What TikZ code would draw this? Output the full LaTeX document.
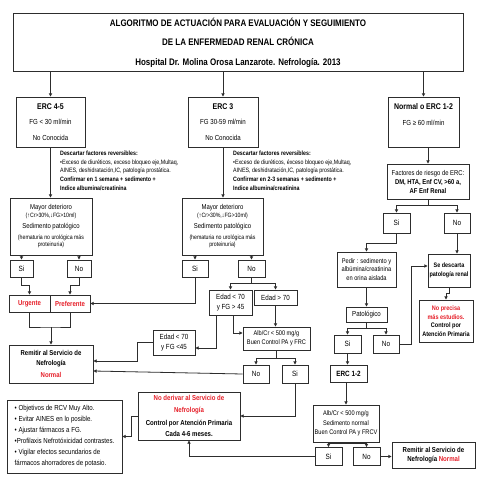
\documentclass[tikz,border=0pt]{standalone}
\usepackage{fontspec}
\setmainfont[FakeStretch=0.84]{Liberation Sans}
\usetikzlibrary{arrows.meta}
\definecolor{mred}{RGB}{230,30,40}
\definecolor{lc}{RGB}{45,45,45}
\newcommand\fs[2]{\fontsize{#1}{#2}\selectfont}
\begin{document}
\begin{tikzpicture}[x=1pt,y=-1pt,
  box/.style={draw=lc,line width=0.9pt,fill=white,align=center,inner sep=1pt,text=black,font=\fs{7.6}{9}},
  wh/.style 2 args={minimum width=#1pt,minimum height=#2pt},
  arr/.style={draw=lc,line width=0.8pt,-{Triangle[length=3.2pt,width=3.2pt]}},
  ln/.style={draw=lc,line width=0.8pt},
  txt/.style={align=left,inner sep=0pt,anchor=north west,font=\fs{6.3}{8.6}},
  rb/.style={text=mred,font=\bfseries\fs{7.2}{9}}]
\fill[white] (0,0) rectangle (480,480);
\useasboundingbox (0,0) rectangle (480,480);

% title
\node[box,wh={450}{58},font=\bfseries\fs{9.5}{19.5}] (title) at (238,42.5)
 {ALGORITMO DE ACTUACIÓN PARA EVALUACIÓN Y SEGUIMIENTO\\DE LA ENFERMEDAD RENAL CRÓNICA\\Hospital Dr. Molina Orosa Lanzarote. Nefrología. 2013};

% top boxes
\node[box,wh={69}{50},font=\fs{7.3}{15.5}] (erc45) at (50.5,122) {\fs{8.3}{15.5}\bfseries ERC 4-5\\FG < 30 ml/min\\No Conocida};
\node[box,wh={70}{50},font=\fs{7.3}{15.5}] (erc3) at (223,122) {\fs{8.3}{15.5}\bfseries ERC 3\\FG 30-59 ml/min\\No Conocida};
\node[box,wh={71}{50},font=\fs{7.3}{15.5}] (normal) at (423.5,122) {\fs{8.3}{15.5}\bfseries Normal o ERC 1-2\\FG ≥ 60 ml/min\\\mbox{}};

% descriptions
\node[txt] (d45) at (60,151) {\bfseries Descartar factores reversibles:\\•Exceso de diuréticos, exceso bloqueo eje,Multaq,\\AINES, deshidratación,IC, patología prostática.\\\bfseries Confirmar en 1 semana + sedimento +\\\bfseries Indice albumina/creatinina};
\node[txt] (d3) at (233,151) {\bfseries Descartar factores reversibles:\\•Exceso de diuréticos, éxceso bloqueo eje,Multaq,\\AINES, deshidratación,IC, patología prostática.\\\bfseries Confirmar en 2-3 semanas + sedimento +\\\bfseries Indice albumina/creatinina};

% mayor deterioro boxes
\node[box,wh={82}{57},font=\fs{7.1}{10}] (mayor1) at (51,226.5) {Mayor deterioro\\[-2pt]\fs{6.2}{7}(↑Cr>30\%,↓FG>10ml)\\[1pt]Sedimento patológico\\[1pt]\fs{6.2}{7}(hematuria no urológica más\\[-3pt]\fs{6.2}{7}proteinuria)};
\node[box,wh={81}{57},font=\fs{7.1}{10}] (mayor2) at (222.5,226.5) {Mayor deterioro\\[-2pt]\fs{6.2}{7}(↑Cr>30\%,↓FG>10ml)\\[1pt]Sedimento patológico\\[1pt]\fs{6.2}{7}(hematuria no urológica más\\[-3pt]\fs{6.2}{7}proteinuria)};

\node[box,wh={23}{17}] (si1) at (21.5,268.5) {Si};
\node[box,wh={24}{17}] (no1) at (79,268.5) {No};
\node[box,wh={41}{17},rb] (urg) at (29.5,303.5) {Urgente};
\node[box,wh={40}{17},rb] (pref) at (70,303.5) {Preferente};
\node[box,wh={84}{38},font=\bfseries\fs{7.1}{10.5}] (remit1) at (51,364) {Remitir al Servicio de\\Nefrología\\[1.5pt]\textcolor{mred}{Normal}};

\node[box,wh={26}{17}] (si2) at (195,268.5) {Si};
\node[box,wh={27}{17}] (no2) at (251.5,268.5) {No};
\node[box,wh={43}{25},font=\fs{7.4}{10}] (edadA) at (230.5,302.5) {Edad < 70\\y FG > 45};
\node[box,wh={43}{15},font=\fs{7.4}{9}] (edadB) at (275.5,297.5) {Edad > 70};
\node[box,wh={42}{25},font=\fs{7.4}{10}] (edadC) at (174,342.5) {Edad < 70\\y FG <45};
\node[box,wh={67}{23},font=\fs{6.7}{8.5}] (alb1) at (276.5,338.5) {Alb/Cr < 500 mg/g\\Buen Control PA y FRC};
\node[box,wh={26}{18}] (no3) at (256,374) {No};
\node[box,wh={26}{18}] (si3) at (295,374) {Si};
\node[box,wh={102}{48},font=\bfseries\fs{7.2}{11.5}] (noder) at (189,416) {\textcolor{mred}{No derivar al Servicio de}\\\textcolor{mred}{Nefrología}\\[1.5pt]Control por Atención Primaria\\Cada 4-6 meses.};
\node[box,wh={115}{73},align=left,font=\fs{7.3}{11}] (bullets) at (64.5,436.5) {• Objetivos de RCV Muy Alto.\\• Evitar AINES en lo posible.\\• Ajustar fármacos a FG.\\•Profilaxis Nefrotóxicidad contrastes.\\• Vigilar efectos secundarios de\\fármacos ahorradores de potasio.};

% right column
\node[box,wh={82}{35},font=\fs{7}{9}] (fact) at (428,181.5) {Factores de riesgo de ERC:\\\bfseries DM, HTA, Enf CV, >60 a,\\\bfseries AF Enf Renal};
\node[box,wh={27}{20}] (si4) at (396.5,223) {Si};
\node[box,wh={26}{20}] (no4) at (457,223) {No};
\node[box,wh={59}{35},font=\fs{6.8}{8.5}] (pedir) at (366.5,269.5) {Pedir : sedimento y\\albúmina/creatinina\\en orina aislada};
\node[box,wh={42}{33},font=\bfseries\fs{6.5}{9}] (sedesc) at (449,270.5) {Se descarta\\patología renal};
\node[box,wh={54}{42},font=\bfseries\fs{6.6}{8.7}] (noprec) at (446,321) {\textcolor{mred}{No precisa}\\\textcolor{mred}{más estudios.}\\Control por\\Atención Primaria};
\node[box,wh={41}{15},font=\fs{7.3}{9}] (pato) at (366.5,314.5) {Patológico};
\node[box,wh={27}{18}] (si5) at (347.5,344) {Si};
\node[box,wh={26}{18}] (no5) at (386,344) {No};
\node[box,wh={37}{17},font=\bfseries\fs{7.6}{9}] (erc12) at (348.5,373.5) {ERC 1-2};
\node[box,wh={66}{37},font=\fs{6.7}{9.5}] (alb2) at (346,423.5) {Alb/Cr < 500 mg/g\\Sedimento normal\\Buen Control PA y FRCV};
\node[box,wh={27}{18}] (si6) at (328.5,456.5) {Si};
\node[box,wh={27}{18}] (no6) at (366.5,456.5) {No};
\node[box,wh={83}{26},font=\bfseries\fs{7.2}{9.5}] (remit2) at (433.5,455) {Remitir al Servicio de\\Nefrología \textcolor{mred}{Normal}};

% connectors: top
\draw[arr] (title.south -| erc45.north) -- (erc45.north);
\draw[arr] (title.south -| erc3.north) -- (erc3.north);
\draw[arr] (title.south -| normal.north) -- (normal.north);
\draw[arr] (erc45.south) -- (erc45.south |- mayor1.north);
\draw[arr] (erc3.south) -- (erc3.south |- mayor2.north);
\draw[arr] (normal.south -| fact.north) -- (fact.north);

% left column
\draw[arr] (mayor1.south -| si1.north) -- (si1.north);
\draw[arr] (mayor1.south -| no1.north) -- (no1.north);
\draw[arr] (si1.south) -- ++(0,8) -| (urg.north);
\draw[arr] (no1.south) -- ++(0,8) -| (pref.north);
\draw[arr] (si2.south) |- (pref.east);
\coordinate (j1) at (51,327);
\draw[ln] (urg.south) |- (j1) -| (pref.south);
\draw[arr] (j1) -- (remit1.north);

% middle column
\draw[arr] (mayor2.south -| si2.north) -- (si2.north);
\draw[arr] (mayor2.south -| no2.north) -- (no2.north);
\coordinate (j2) at (251.5,283);
\draw[ln] (no2.south) -- (j2);
\draw[arr] (j2) -| (edadA.north);
\draw[arr] (j2) -| (edadB.north);
\coordinate (c1) at (216,348);
\draw[arr] (edadA.south -| c1) -- (c1) -- (c1 -| edadC.east);
\coordinate (c2) at (233,333);
\draw[arr] (edadA.south -| c2) -- (c2) -- (c2 -| alb1.west);
\draw[arr] (edadB.south) -- (edadB.south |- alb1.north);
\coordinate (j3) at (276.5,358);
\draw[ln] (alb1.south) -- (j3);
\draw[arr] (j3) -| (no3.north);
\draw[arr] (j3) -| (si3.north);
\coordinate (c3) at (137,361);
\draw[arr] (edadC.west) -| (c3) -- (c3 -| remit1.east);
\coordinate (c4) at (0,371);
\draw[arr] (no3.west) -- (remit1.east |- c4);
\draw[arr] (si3.south) |- (noder.east);
\draw[arr] (noder.west) -- ++(-6,0) |- (bullets.east);
\draw[arr] (si6.west) -| (noder.south);

% right column
\coordinate (j4) at (428,205);
\draw[ln] (fact.south) -- (j4);
\draw[arr] (j4) -| (si4.north);
\draw[arr] (j4) -| (no4.north);
\draw[arr] (si4.south) -- ++(0,10) -| (pedir.north);
\draw[arr] (no4.south) -- (no4.south |- sedesc.north);
\draw[arr] (sedesc.south) -- ++(0,6) -| (noprec.north);
\draw[arr] (pedir.south) -- (pato.north);
\coordinate (j5) at (366.5,328);
\draw[ln] (pato.south) -- (j5);
\draw[arr] (j5) -| (si5.north);
\draw[arr] (j5) -| (no5.north);
\coordinate (c5) at (411,266);
\draw[arr] (no5.east) -| (c5) -- (c5 -| sedesc.west);
\draw[arr] (si5.south) -- (si5.south |- erc12.north);
\draw[arr] (erc12.south -| alb2.north) -- (alb2.north);
\coordinate (j6) at (346,443);
\draw[ln] (alb2.south) -- (j6);
\draw[arr] (j6) -| (si6.north);
\draw[arr] (j6) -| (no6.north);
\draw[arr] (no6.east) -- (no6.east -| remit2.west);
\end{tikzpicture}
\end{document}
